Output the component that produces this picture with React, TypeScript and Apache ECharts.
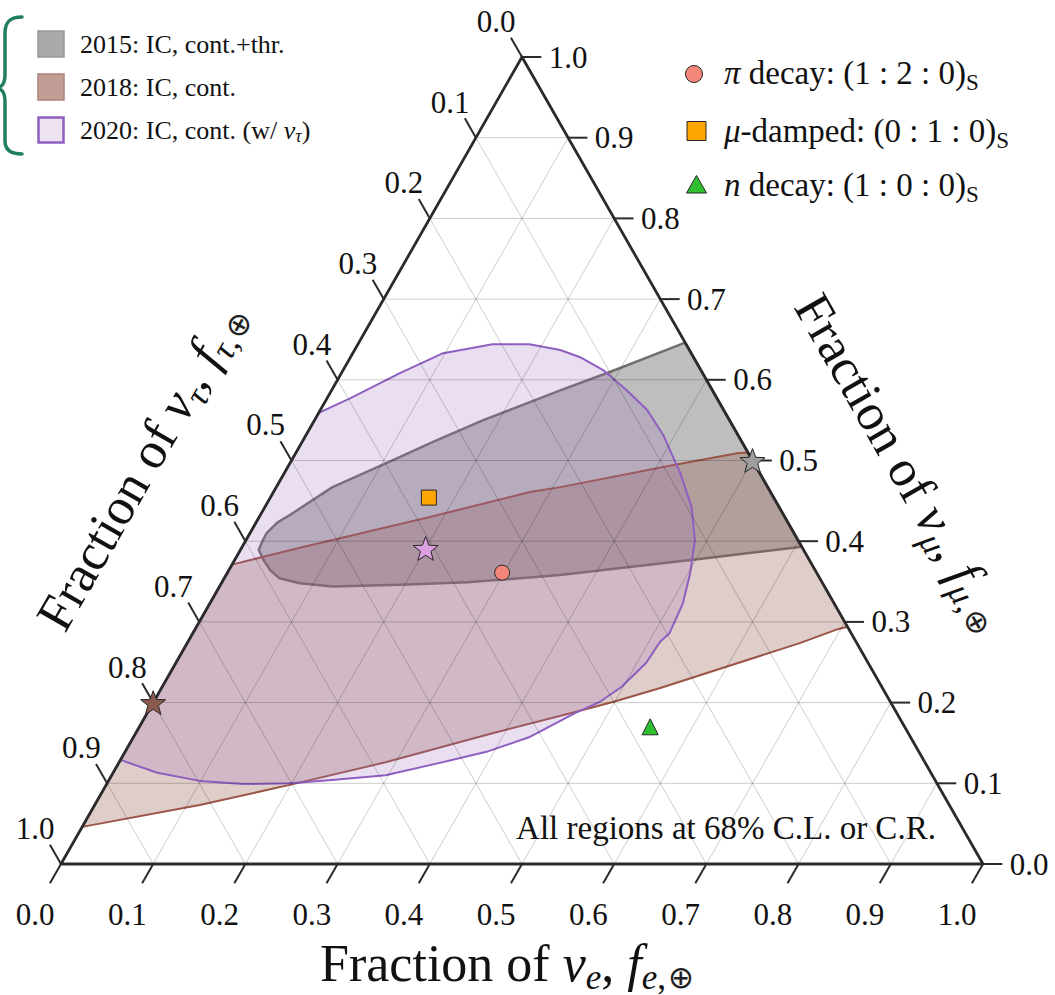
import React, { useEffect, useRef } from 'react';
import * as echarts from 'echarts';

const FONT = '"Liberation Serif", "DejaVu Serif", serif';

// ternary tick values (shared by the three axes)
const TICKS = [0, 0.1, 0.2, 0.3, 0.4, 0.5, 0.6, 0.7, 0.8, 0.9, 1.0];
const TICK_LABELS = ['0.0', '0.1', '0.2', '0.3', '0.4', '0.5', '0.6', '0.7', '0.8', '0.9', '1.0'];

// regions as [f_e, f_mu] (f_tau = 1 - f_e - f_mu)
const REGION_2015 = [
  [0.020, 0.389], [0.0185, 0.399], [0.018, 0.410], [0.023, 0.423], [0.032, 0.4325], [0.061, 0.467],
  [0.105, 0.497], [0.142, 0.523], [0.183, 0.550], [0.222, 0.572], [0.248, 0.587], [0.291, 0.610],
  [0.354, 0.646], [0.607, 0.393], [0.497, 0.377], [0.362, 0.358], [0.266, 0.349], [0.195, 0.346],
  [0.123, 0.344], [0.085, 0.348], [0.060, 0.354], [0.045, 0.364], [0.031, 0.377],
];
const REGION_2018 = [
  [0.0, 0.046], [0.114, 0.073], [0.202, 0.099], [0.289, 0.126], [0.387, 0.162], [0.460, 0.187],
  [0.499, 0.201], [0.541, 0.218], [0.665, 0.274], [0.697, 0.291], [0.706, 0.294],
  [0.490, 0.510], [0.479, 0.509], [0.416, 0.494], [0.308, 0.467], [0.278, 0.461], [0.185, 0.430],
  [0.063, 0.392], [0.0, 0.371],
];
const REGION_2020 = [
  [0.0, 0.559], [0.025, 0.577], [0.063, 0.608], [0.098, 0.633], [0.146, 0.644], [0.186, 0.644],
  [0.223, 0.637], [0.249, 0.628], [0.282, 0.612], [0.320, 0.587], [0.354, 0.563], [0.387, 0.532],
  [0.429, 0.485], [0.463, 0.442], [0.487, 0.401], [0.502, 0.361], [0.513, 0.323], [0.517, 0.286],
  [0.512, 0.275], [0.510, 0.249], [0.498, 0.219], [0.484, 0.201], [0.464, 0.187], [0.429, 0.157],
  [0.392, 0.139], [0.347, 0.125], [0.297, 0.110], [0.242, 0.104], [0.198, 0.100], [0.148, 0.099],
  [0.099, 0.103], [0.048, 0.113], [0.0, 0.129],
];

// flavour ratios at Earth, [f_e, f_mu]
const EARTH_PION = [0.298, 0.361];
const EARTH_MUDAMPED = [0.172, 0.454];
const EARTH_NEUTRON = [0.554, 0.170];
// best fits, [f_e, f_mu]
const BEST_2015 = [0.5, 0.5];
const BEST_2018 = [0.0, 0.2];
const BEST_2020 = [0.2, 0.391];

const REGION_NAMES = ['2015: IC, cont.+thr.', '2018: IC, cont.', '2020: IC, cont. (w/ {i|ν}{sub|τ})'];
const SOURCE_NAMES = [
  '{i|π} decay: (1 : 2 : 0){sub|S}',
  '{i|μ}-damped: (0 : 1 : 0){sub|S}',
  '{i|n} decay: (1 : 0 : 0){sub|S}',
];
const TITLE_E = 'Fraction of {i|ν}{subi|e}, {i|f}{subi|e}{sub|,}{op|⊕}';
const TITLE_TAU = 'Fraction of {i|ν}{subi|τ}, {i|f}{subi|τ}{sub|,}{op|⊕}';
const TITLE_MU = 'Fraction of {i|ν}{subi|μ}, {i|f}{subi|μ}{sub|,}{op|⊕}';
const NOTE = 'All regions at 68% C.L. or C.R.';

const BRACE_D =
  'M22,17 C11,17 5,21 5,33 L5,74 C5,84 2,88 -6,88 C2,88 5,92 5,102 L5,141 C5,150 11,154 22,154';
const STAR = 'path://M50,0L62.3,33L97.6,34.5L70,56.5L79.4,90.5L50,71L20.6,90.5L30,56.5L2.4,34.5L37.7,33Z';

const toXY = (p: number[]) => [p[0] + p[1] / 2, p[1]];

function buildOption() {
  const inner = TICKS.filter((c) => c > 0 && c < 1);
  const gridSegs: number[][] = [];
  inner.forEach((c) => {
    gridSegs.push([...toXY([c, 0]), ...toXY([c, 1 - c])]); // f_e = c
    gridSegs.push([...toXY([0, c]), ...toXY([1 - c, c])]); // f_mu = c
    gridSegs.push([...toXY([0, 1 - c]), ...toXY([1 - c, 0])]); // f_tau = c
  });

  const T = 0.024;
  const tickSegs: number[][] = [];
  const labels: { pos: number[]; text: string; align: string }[] = [];
  TICKS.forEach((c, i) => {
    const b = toXY([c, 0]);
    tickSegs.push([b[0], b[1], b[0] - 0.5 * T, b[1] - T]);
    labels.push({ pos: [b[0] - 0.028, b[1] - 0.063], text: TICK_LABELS[i], align: 'center' });
    const r = toXY([1 - c, c]);
    tickSegs.push([r[0], r[1], r[0] + 0.021, r[1]]);
    labels.push({ pos: [r[0] + 0.029, r[1]], text: TICK_LABELS[i], align: 'left' });
    const l = toXY([0, 1 - c]);
    tickSegs.push([l[0], l[1], l[0] - 0.5 * T, l[1] + T]);
    labels.push({ pos: [l[0] - 0.028, l[1] + 0.044], text: TICK_LABELS[i], align: 'center' });
  });

  const segSeries = (segs: number[][], stroke: string, lineWidth: number, z: number) => ({
    type: 'custom',
    coordinateSystem: 'cartesian2d',
    silent: true,
    z,
    dimensions: ['x1', 'y1', 'x2', 'y2'],
    encode: { x: [0, 2], y: [1, 3] },
    data: segs,
    renderItem: (params: any, api: any) => {
      const a = api.coord([api.value(0), api.value(1)]);
      const b = api.coord([api.value(2), api.value(3)]);
      return {
        type: 'line',
        shape: { x1: a[0], y1: a[1], x2: b[0], y2: b[1] },
        style: { stroke, lineWidth },
      };
    },
  });

  const polySeries = (pts: number[][], fill: string, stroke: string, lineWidth: number, z: number) => ({
    type: 'custom',
    coordinateSystem: 'cartesian2d',
    silent: true,
    z,
    data: [[0, 0]],
    renderItem: (params: any, api: any) => ({
      type: 'polygon',
      shape: { points: pts.map((p) => api.coord(toXY(p))) },
      style: { fill, stroke, lineWidth, lineJoin: 'round' },
    }),
  });

  const triangle = [[0, 0], [1, 0], [0, 1]];

  const scatter = (p: number[], symbol: string, size: number, color: string, z = 10) => ({
    type: 'scatter',
    silent: true,
    clip: false,
    z,
    symbol,
    symbolSize: size,
    symbolKeepAspect: true,
    itemStyle: { color, borderColor: '#262626', borderWidth: 1, opacity: 1 },
    data: [toXY(p)],
  });

  const TS = 52;
  const titleRich = {
    i: { fontFamily: FONT, fontSize: TS, fontStyle: 'italic', fill: '#111' },
    subi: { fontFamily: FONT, fontSize: 35, fontStyle: 'italic', padding: [28, 0, 0, 0], fill: '#111' },
    sub: { fontFamily: FONT, fontSize: 35, padding: [28, 0, 0, 0], fill: '#111' },
    op: { fontFamily: '"DejaVu Sans", sans-serif', fontSize: 31, padding: [28, 0, 0, 2], fill: '#222' },
  };
  const titleStyle = (text: string) => ({
    text,
    fontFamily: FONT,
    fontSize: TS,
    fill: '#111',
    align: 'center',
    verticalAlign: 'middle',
    rich: titleRich,
  });

  const edgeAngle = Math.atan2(807, 461);

  const graphic: any[] = [
    {
      type: 'brace',
      x: 0,
      y: 0,
      shape: {},
      style: { fill: 'none', stroke: '#1f7f60', lineWidth: 3.5, lineCap: 'round' },
    },
    // region legend
    { type: 'rect', shape: { x: 38, y: 31, width: 26, height: 26 }, style: { fill: '#a9a9a9', stroke: '#989898', lineWidth: 1.5 } },
    { type: 'rect', shape: { x: 38, y: 74, width: 26, height: 26 }, style: { fill: '#c19d95', stroke: '#aa827a', lineWidth: 1.5 } },
    { type: 'rect', shape: { x: 38.5, y: 117.5, width: 25, height: 25 }, style: { fill: '#ece2f0', stroke: '#8e5fc0', lineWidth: 2.5 } },
    ...REGION_NAMES.map((t, i) => ({
      type: 'text',
      x: 80,
      y: 44 + 43 * i,
      style: {
        text: t,
        fontFamily: FONT,
        fontSize: 26,
        fill: '#111',
        align: 'left',
        verticalAlign: 'middle',
        rich: {
          i: { fontFamily: FONT, fontSize: 26, fontStyle: 'italic', fill: '#111' },
          sub: { fontFamily: FONT, fontSize: 18, fontStyle: 'italic', padding: [12, 0, 0, 0], fill: '#111' },
        },
      },
    })),
    // source legend
    { type: 'circle', shape: { cx: 694, cy: 74, r: 8.5 }, style: { fill: '#f4877b', stroke: '#262626', lineWidth: 1 } },
    { type: 'rect', shape: { x: 687, y: 121.5, width: 19, height: 19 }, style: { fill: '#ffa500', stroke: '#262626', lineWidth: 1 } },
    {
      type: 'polygon',
      shape: { points: [[696.5, 175.5], [706.5, 193], [686.5, 193]] },
      style: { fill: '#2fbf2f', stroke: '#262626', lineWidth: 1 },
    },
    ...SOURCE_NAMES.map((t, i) => ({
      type: 'text',
      x: 724,
      y: [73, 131, 185][i],
      style: {
        text: t,
        fontFamily: FONT,
        fontSize: 33,
        fill: '#111',
        align: 'left',
        verticalAlign: 'middle',
        rich: {
          i: { fontFamily: FONT, fontSize: 33, fontStyle: 'italic', fill: '#111' },
          sub: { fontFamily: FONT, fontSize: 23, padding: [18, 0, 0, 0], fill: '#111' },
        },
      },
    })),
    // axis titles
    { type: 'text', x: 507, y: 963, style: titleStyle(TITLE_E) },
    { type: 'text', x: 141, y: 466, rotation: edgeAngle, style: titleStyle(TITLE_TAU) },
    { type: 'text', x: 902, y: 462, rotation: -edgeAngle, style: titleStyle(TITLE_MU) },
    {
      type: 'text',
      x: 726,
      y: 828,
      style: { text: NOTE, fontFamily: FONT, fontSize: 33, fill: '#111', align: 'center', verticalAlign: 'middle' },
    },
  ];

  return {
    animation: false,
    backgroundColor: '#ffffff',
    grid: { left: 61, right: 72, top: 57, bottom: 131, show: false },
    xAxis: { type: 'value', min: 0, max: 1, show: false },
    yAxis: { type: 'value', min: 0, max: 1, show: false },
    series: [
      polySeries(REGION_2015, 'rgba(105,105,105,0.43)', '#707070', 2.5, 1),
      polySeries(REGION_2018, 'rgba(150,90,75,0.3)', '#9b5546', 2, 2),
      polySeries(REGION_2020, 'rgba(160,110,190,0.22)', '#8e5fc0', 2, 3),
      segSeries(gridSegs, 'rgba(0,0,0,0.2)', 1, 4),
      polySeries(triangle, 'none', '#2b2b2b', 2.8, 5),
      segSeries(tickSegs, '#2b2b2b', 2, 5),
      {
        type: 'custom',
        coordinateSystem: 'cartesian2d',
        silent: true,
        z: 6,
        data: labels.map((l) => l.pos),
        renderItem: (params: any, api: any) => {
          const it = labels[params.dataIndex];
          const p = api.coord(it.pos);
          return {
            type: 'text',
            x: p[0],
            y: p[1],
            style: {
              text: it.text,
              fontFamily: FONT,
              fontSize: 31,
              fill: '#111',
              align: it.align,
              verticalAlign: 'middle',
            },
          };
        },
      },
      scatter(EARTH_PION, 'circle', 15, '#f4877b'),
      scatter(EARTH_MUDAMPED, 'rect', 15, '#ffa500'),
      scatter(EARTH_NEUTRON, 'triangle', 16, '#2fbf2f'),
      scatter(BEST_2015, STAR, 25, '#9e9e9e'),
      scatter(BEST_2018, STAR, 25, '#8b5a4e'),
      scatter(BEST_2020, STAR, 25, '#dda0e0'),
    ],
    graphic,
  };
}

export default function App() {
  const ref = useRef<HTMLDivElement>(null);
  useEffect(() => {
    const el = ref.current;
    if (!el) return;
    echarts.graphic.registerShape('brace', echarts.graphic.extendPath(BRACE_D, {}) as any);
    const chart = echarts.init(el, undefined, { renderer: 'svg' });
    chart.setOption(buildOption() as any);
    return () => chart.dispose();
  }, []);
  return (
    <div
      ref={ref}
      style={{ position: 'absolute', left: 0, top: 0, width: 1055, height: 995, background: '#fff' }}
    />
  );
}
